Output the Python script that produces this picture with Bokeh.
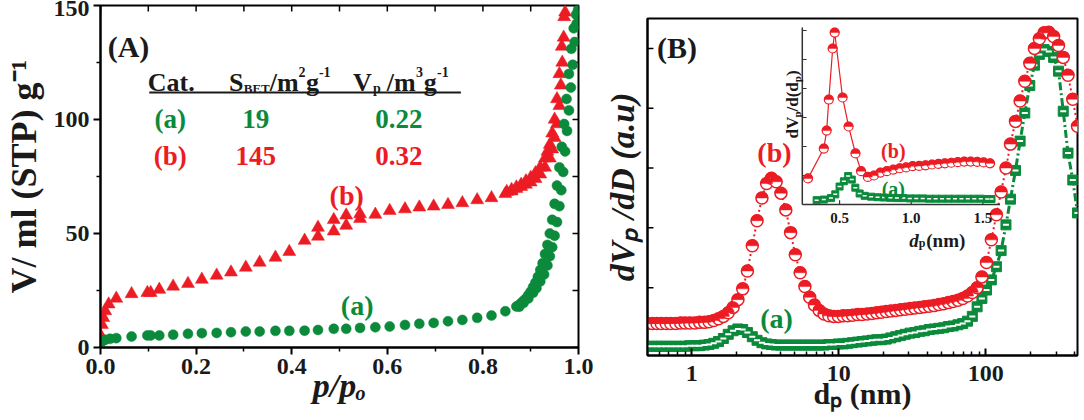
import math
from bokeh.plotting import figure
from bokeh.layouts import row, column
from bokeh.models import Range1d, FixedTicker, PrintfTickFormatter, Label, LinearScale
from bokeh.embed import file_html
from bokeh.resources import INLINE

RED = "#EC1C24"
GREEN = "#0B8A3B"
INK = "#1a1a1a"
SERIF = "Liberation Serif"

# ---------------- (A) N2 adsorption-desorption isotherms ----------------
A_GREEN_ADS_P = [0.002, 0.005, 0.010, 0.020, 0.033, 0.065, 0.098, 0.105, 0.123, 0.152,
                 0.183, 0.212, 0.243, 0.273, 0.304, 0.333, 0.366, 0.395, 0.427, 0.455,
                 0.488, 0.514, 0.543, 0.575, 0.605, 0.637, 0.667, 0.697, 0.727, 0.757,
                 0.788, 0.818, 0.847, 0.876, 0.885, 0.895, 0.905, 0.912, 0.920, 0.928,
                 0.935, 0.940, 0.945, 0.950, 0.955, 0.960, 0.964, 0.968, 0.972, 0.976,
                 0.980, 0.984, 0.988, 0.992, 0.996, 0.999]
A_GREEN_ADS_V = [2.5, 3.0, 3.4, 3.8, 4.1, 4.8, 5.3, 5.3, 5.3, 5.6,
                 6.0, 6.3, 6.4, 6.7, 7.0, 7.0, 7.3, 7.3, 7.4, 7.7,
                 8.2, 8.2, 8.6, 8.9, 9.2, 9.9, 10.4, 10.8, 11.5, 12.1,
                 13.0, 14.0, 15.9, 17.9, 19.5, 21.5, 24.0, 26.0, 29.0, 32.0,
                 36.0, 40.0, 44.0, 49.0, 55.0, 62.0, 69.0, 77.0, 86.0, 95.0,
                 104.0, 114.0, 124.0, 134.0, 142.0, 148.0]
A_GREEN_DES_P = [0.995, 0.990, 0.985, 0.980, 0.975, 0.970, 0.965, 0.960, 0.955, 0.950,
                 0.945, 0.940, 0.935, 0.930, 0.925, 0.920, 0.915, 0.910, 0.905, 0.900,
                 0.895, 0.890, 0.885, 0.880, 0.875, 0.870]
A_GREEN_DES_V = [146, 140, 131, 120, 109, 98, 88, 79, 71, 63,
                 56, 50, 45, 41, 37, 34, 31, 28.5, 26.5, 24.5,
                 23, 21.5, 20.5, 19.5, 18.5, 18]
A_RED_ADS_P = [0.001, 0.003, 0.006, 0.010, 0.017, 0.033, 0.065, 0.098, 0.105, 0.123,
               0.152, 0.183, 0.212, 0.243, 0.273, 0.304, 0.333, 0.366, 0.395, 0.427,
               0.455, 0.488, 0.514, 0.543, 0.575, 0.605, 0.637, 0.667, 0.697, 0.727,
               0.757, 0.788, 0.818, 0.847, 0.860, 0.870, 0.880, 0.890, 0.900, 0.910,
               0.920, 0.930, 0.940, 0.945, 0.950, 0.955, 0.960, 0.963, 0.966, 0.969,
               0.972]
A_RED_ADS_V = [5, 10, 13, 16, 19, 21.5, 23.5, 24, 24, 25.4,
               26.8, 28, 29.8, 31.6, 33, 35.1, 37.3, 39.5, 42, 46.9,
               48.7, 51, 53.5, 56.5, 58.3, 60, 60.7, 61.5, 61.9, 62.6,
               63.4, 64.7, 65.6, 67.4, 68.5, 69.6, 70.5, 71.5, 72.5, 74,
               76, 79, 83, 87, 92, 98, 106, 115, 125, 136,
               147]
A_RED_DES_P = [0.970, 0.965, 0.960, 0.955, 0.950, 0.945, 0.940, 0.935, 0.930, 0.920,
               0.910, 0.900, 0.890, 0.880, 0.870, 0.860, 0.850,
               0.543, 0.514, 0.488, 0.455]
A_RED_DES_V = [145, 132, 120, 109, 100, 94, 89, 86, 83, 79,
               76.5, 74.5, 73, 71.5, 70.3, 69.2, 68.3,
               58.5, 58, 56, 52.6]

A_XTICKS = [0.0, 0.2, 0.4, 0.6, 0.8, 1.0]
A_XMINOR = [0.1, 0.3, 0.5, 0.7, 0.9]
A_YTICKS = [0, 50, 100, 150]
A_YMINOR = [25, 75, 125]

TABLE_ROWS = [("(a)", "19", "0.22", GREEN), ("(b)", "145", "0.32", RED)]

# ---------------- (B) pore size distribution ----------------
B_D = [0.50, 0.54, 0.58, 0.62, 0.67, 0.72, 0.78, 0.84, 0.90, 0.97,
       1.05, 1.13, 1.22, 1.31, 1.41, 1.52, 1.64, 1.77, 1.91, 2.06,
       2.22, 2.39, 2.58, 2.78, 3.00, 3.23, 3.48, 3.75, 4.04, 4.36,
       4.70, 5.06, 5.46, 5.88, 6.34, 6.83, 7.36, 7.94, 8.55, 9.22,
       9.94, 10.7, 11.5, 12.4, 13.4, 14.4, 15.6, 16.8, 18.1, 19.5,
       21.0, 22.6, 24.4, 26.3, 28.3, 30.5, 32.9, 35.5, 38.2, 41.2,
       44.4, 47.9, 51.6, 55.6, 59.9, 64.6, 69.6, 75.0, 80.9, 87.2,
       94.0, 101, 109, 118, 127, 137, 147, 159, 171, 184,
       199, 214, 231, 249, 268, 289, 312, 336, 362, 390,
       420]
B_RED = [0.40, 0.40, 0.40, 0.40, 0.40, 0.40, 0.40, 0.41, 0.41, 0.41,
         0.41, 0.42, 0.42, 0.43, 0.45, 0.48, 0.52, 0.58, 0.67, 0.80,
         0.98, 1.28, 1.70, 2.12, 2.50, 2.74, 2.83, 2.77, 2.58, 2.30,
         1.92, 1.55, 1.25, 1.02, 0.84, 0.71, 0.62, 0.56, 0.53, 0.52,
         0.52, 0.53, 0.53, 0.54, 0.55, 0.55, 0.56, 0.57, 0.58, 0.59,
         0.60, 0.61, 0.62, 0.63, 0.64, 0.65, 0.66, 0.67, 0.68, 0.69,
         0.70, 0.72, 0.73, 0.75, 0.77, 0.79, 0.82, 0.86, 0.92, 1.00,
         1.18, 1.42, 1.80, 2.22, 2.60, 3.00, 3.40, 3.78, 4.12, 4.45,
         4.75, 5.00, 5.16, 5.26, 5.27, 5.20, 5.05, 4.85, 4.55, 4.15,
         3.70]
B_GREEN = [0.02, 0.02, 0.02, 0.02, 0.02, 0.02, 0.02, 0.02, 0.02, 0.03,
           0.03, 0.03, 0.04, 0.05, 0.07, 0.10, 0.15, 0.22, 0.28, 0.31,
           0.30, 0.25, 0.18, 0.12, 0.08, 0.06, 0.05, 0.04, 0.04, 0.04,
           0.04, 0.04, 0.04, 0.04, 0.04, 0.04, 0.04, 0.04, 0.05, 0.05,
           0.06, 0.06, 0.07, 0.08, 0.09, 0.10, 0.11, 0.12, 0.13, 0.13,
           0.14, 0.16, 0.18, 0.20, 0.22, 0.24, 0.25, 0.27, 0.28, 0.30,
           0.31, 0.32, 0.33, 0.35, 0.36, 0.38, 0.40, 0.44, 0.52, 0.68,
           0.82, 0.96, 1.13, 1.35, 1.62, 2.05, 2.48, 2.96, 3.45, 3.92,
           4.38, 4.72, 4.90, 4.98, 4.95, 4.85, 4.62, 3.95, 3.25, 2.80,
           2.25]

B_XTICKS = [1, 10, 100]
B_XMINOR = [0.6, 0.7, 0.8, 0.9, 2, 3, 4, 5, 6, 7, 8, 9,
            20, 30, 40, 50, 60, 70, 80, 90, 200, 300, 400]
B_YTICKS = [1, 2, 3, 4, 5]

# inset: micropore region
IN_RED_D = [0.28, 0.39, 0.41, 0.425, 0.452, 0.466, 0.521, 0.563, 0.611, 0.650,
            0.697, 0.74, 0.785, 0.83, 0.875, 0.92, 0.965, 1.01, 1.055, 1.10,
            1.145, 1.19, 1.235, 1.28, 1.325, 1.37, 1.415, 1.46, 1.505, 1.55]
IN_RED_V = [0.90, 1.93, 2.55, 3.62, 5.38, 5.93, 3.69, 2.69, 1.76, 1.15,
            0.95, 1.00, 1.10, 1.15, 1.20, 1.25, 1.28, 1.32, 1.33, 1.35,
            1.38, 1.40, 1.42, 1.44, 1.46, 1.48, 1.48, 1.47, 1.45, 1.42]
IN_GREEN_D = [0.34, 0.39, 0.44, 0.47, 0.50, 0.53, 0.56, 0.585, 0.61, 0.64,
              0.675, 0.72, 0.765, 0.81, 0.855, 0.90, 0.945, 0.99, 1.035, 1.08,
              1.125, 1.17, 1.215, 1.26, 1.305, 1.35, 1.395, 1.44, 1.485, 1.53,
              1.56]
IN_GREEN_V = [0.15, 0.17, 0.22, 0.35, 0.62, 0.80, 0.98, 0.86, 0.58, 0.38,
              0.30, 0.27, 0.25, 0.24, 0.23, 0.22, 0.22, 0.21, 0.21, 0.21,
              0.20, 0.20, 0.20, 0.20, 0.20, 0.20, 0.20, 0.20, 0.20, 0.19,
              0.19]
IN_XSPAN = (0.24, 1.62)
IN_YSPAN = (0.0, 6.1)
IN_XTICKS = [0.5, 1.0, 1.5]
IN_YTICKS = [1, 2, 3, 4, 5, 6]


def label(p, x, y, text, size, color=INK, style="bold", align="left",
          baseline="alphabetic", angle=0.0, xr="default", yr="default"):
    p.add_layout(Label(x=x, y=y, text=text, text_font=SERIF, text_font_size=f"{size}px",
                       text_font_style=style, text_color=color, text_align=align,
                       text_baseline=baseline, angle=angle,
                       x_range_name=xr, y_range_name=yr))


def style_axis(ax, ticks, minor, t_in, t_out, m_in, m_out, size, standoff,
               title, title_size, title_style, title_standoff):
    ax.ticker = FixedTicker(ticks=ticks, minor_ticks=minor)
    ax.axis_line_width = 2
    ax.axis_line_color = "black"
    ax.major_tick_line_width = 2
    ax.major_tick_line_color = "black"
    ax.minor_tick_line_width = 1.5
    ax.minor_tick_line_color = "black"
    ax.major_tick_in = t_in
    ax.major_tick_out = t_out
    ax.minor_tick_in = m_in
    ax.minor_tick_out = m_out
    ax.major_label_text_font = SERIF
    ax.major_label_text_font_style = "bold"
    ax.major_label_text_color = INK
    ax.major_label_text_font_size = size
    ax.major_label_standoff = standoff
    ax.axis_label = title
    ax.axis_label_text_font = SERIF
    ax.axis_label_text_font_size = title_size
    ax.axis_label_text_font_style = title_style
    ax.axis_label_text_color = INK
    ax.axis_label_standoff = title_standoff


# ======================= panel A =======================
A_W, A_H = 600, 420
A_ML, A_MR, A_MT, A_MB = 99, 22, 5, 73
pa = figure(width=A_W, height=A_H, x_range=Range1d(0, 1), y_range=Range1d(0, 150),
            output_backend="svg", toolbar_location=None,
            min_border_left=A_ML, min_border_right=A_MR, min_border_top=A_MT, min_border_bottom=A_MB)
pa.grid.visible = False
pa.outline_line_color = "black"
pa.outline_line_width = 2
pa.background_fill_color = "white"
pa.border_fill_color = "white"

style_axis(pa.xaxis[0], A_XTICKS, A_XMINOR, 0, 7, 0, 4, "24px", 4,
           "p/p\u2092", "34px", "bold italic", -10)
pa.xaxis[0].formatter = PrintfTickFormatter(format="%.1f")
style_axis(pa.yaxis[0], A_YTICKS, A_YMINOR, 0, 7, 0, 4, "24px", 4,
           "V/ ml (STP) g\u207b\u00b9", "36px", "bold", 7)

# inward ticks on top and right frame edges
a_fw = A_W - A_ML - A_MR
a_fh = A_H - A_MT - A_MB
a_dx = 6 * 1.0 / a_fw
a_dy = 6 * 150.0 / a_fh
top_t = A_XTICKS + A_XMINOR
pa.segment(x0=top_t, y0=[150] * len(top_t), x1=top_t, y1=[150 - a_dy] * len(top_t),
           line_color="black", line_width=1.5)
right_t = A_YTICKS + A_YMINOR
pa.segment(x0=[1.0] * len(right_t), y0=right_t, x1=[1.0 - a_dx] * len(right_t), y1=right_t,
           line_color="black", line_width=1.5)

pa.scatter(A_RED_ADS_P, A_RED_ADS_V, marker="triangle", size=13, fill_color=RED, line_color=RED, line_width=0.5)
pa.scatter(A_RED_DES_P, A_RED_DES_V, marker="triangle", size=13, fill_color=RED, line_color=RED, line_width=0.5)
pa.scatter(A_GREEN_ADS_P, A_GREEN_ADS_V, marker="circle", size=10, fill_color=GREEN, line_color=GREEN, line_width=0.5)
pa.scatter(A_GREEN_DES_P, A_GREEN_DES_V, marker="circle", size=10, fill_color=GREEN, line_color=GREEN, line_width=0.5)

# panel label and table
label(pa, 0.015, 132, "(A)", 30)
label(pa, 0.099, 116.2, "Cat.", 26)
label(pa, 0.269, 116.2, "S", 26)
label(pa, 0.2996, 113.4, "BET", 13)
label(pa, 0.354, 116.2, "/m", 26)
label(pa, 0.414, 121.0, "2", 14)
label(pa, 0.430, 116.2, "g", 26)
label(pa, 0.457, 121.0, "-1", 14)
label(pa, 0.528, 116.2, "V", 26)
label(pa, 0.570, 113.4, "p", 14)
label(pa, 0.599, 116.2, "/m", 26)
label(pa, 0.660, 121.0, "3", 14)
label(pa, 0.676, 116.2, "g", 26)
label(pa, 0.704, 121.0, "-1", 14)
pa.segment(x0=[0.102], y0=[111.8], x1=[0.754], y1=[111.8], line_color=INK, line_width=2)
for (cat, s, v, col), yb in zip(TABLE_ROWS, [100.4, 84.2]):
    label(pa, 0.146, yb, cat, 27, color=col, align="center")
    label(pa, 0.325, yb, s, 27, color=col, align="center")
    label(pa, 0.624, yb, v, 27, color=col, align="center")

label(pa, 0.515, 66.7, "(b)", 28, color=RED, align="center", baseline="middle")
label(pa, 0.537, 18.4, "(a)", 28, color=GREEN, align="center", baseline="middle")

# ======================= panel B =======================
B_W, B_H = 484, 420
B_ML, B_MR, B_MT, B_MB = 45, 7, 18, 65
B_XR = (0.5, 420)
B_YR = (-0.134, 5.5)
pb = figure(width=B_W, height=B_H, x_axis_type="log",
            x_range=Range1d(*B_XR), y_range=Range1d(*B_YR),
            output_backend="svg", toolbar_location=None,
            min_border_left=B_ML, min_border_right=B_MR, min_border_top=B_MT, min_border_bottom=B_MB)
pb.grid.visible = False
pb.outline_line_color = "black"
pb.outline_line_width = 2
pb.background_fill_color = "white"
pb.border_fill_color = "white"
pb.extra_x_ranges = {"ix": Range1d(-0.84, 2.16)}
pb.extra_x_scales = {"ix": LinearScale()}
pb.extra_y_ranges = {"iy": Range1d(-5.207, 6.414)}

style_axis(pb.xaxis[0], B_XTICKS, B_XMINOR, 7, 0, 4, 0, "24px", 10,
           "d\u209a (nm)", "30px", "bold", -7)
pb.xaxis[0].formatter = PrintfTickFormatter(format="%d")
style_axis(pb.yaxis[0], [], [], 0, 0, 0, 0, "24px", 0,
           "dV\u209a /dD (a.u)", "34px", "bold italic", 7)

# inward ticks on the left edge of panel B
b_fw = B_W - B_ML - B_MR
b_tick = B_XR[0] * 10 ** (6 * math.log10(B_XR[1] / B_XR[0]) / b_fw)
pb.segment(x0=[B_XR[0]] * len(B_YTICKS), y0=B_YTICKS, x1=[b_tick] * len(B_YTICKS), y1=B_YTICKS,
           line_color="black", line_width=1.5)

pb.line(B_D, B_GREEN, line_color=GREEN, line_width=3, line_dash="8 3 2 3")
pb.scatter(B_D, B_GREEN, marker="square", size=10, fill_color=GREEN, line_color=GREEN, line_width=1)
pb.scatter(B_D, B_GREEN, marker="dash", size=6, line_color="white", line_width=2)
pb.line(B_D, B_RED, line_color=RED, line_width=2, line_dash="2 3")
pb.scatter(B_D, B_RED, marker="circle", size=12, fill_color="white", line_color=RED, line_width=1.5)
pb.wedge(B_D, B_RED, radius=6, radius_units="screen", start_angle=0, end_angle=math.pi,
         fill_color=RED, line_color=RED, line_width=0.5)

label(pb, 0.58, 5.02, "(B)", 30, baseline="middle")
label(pb, 3.65, 3.26, "(b)", 28, color=RED, align="center", baseline="middle")
label(pb, 3.77, 0.48, "(a)", 28, color=GREEN, align="center", baseline="middle")

# ---- inset (drawn on extra ranges) ----
ik = dict(x_range_name="ix", y_range_name="iy")
pb.segment(x0=[IN_XSPAN[0]], y0=[IN_YSPAN[0]], x1=[IN_XSPAN[0]], y1=[IN_YSPAN[1]],
           line_color="#333333", line_width=1.5, **ik)
pb.segment(x0=[IN_XSPAN[0]], y0=[IN_YSPAN[0]], x1=[IN_XSPAN[1]], y1=[IN_YSPAN[0]],
           line_color="#333333", line_width=1.5, **ik)
pb.segment(x0=[IN_XSPAN[0]] * len(IN_YTICKS), y0=IN_YTICKS,
           x1=[IN_XSPAN[0] + 0.03] * len(IN_YTICKS), y1=IN_YTICKS,
           line_color="#333333", line_width=1.2, **ik)
pb.segment(x0=IN_XTICKS, y0=[IN_YSPAN[0]] * len(IN_XTICKS),
           x1=IN_XTICKS, y1=[IN_YSPAN[0] + 0.15] * len(IN_XTICKS),
           line_color="#333333", line_width=1.2, **ik)
for t in IN_XTICKS:
    label(pb, t, -0.45, f"{t:.1f}", 15, align="center", baseline="middle", xr="ix", yr="iy")

pb.line(IN_GREEN_D, IN_GREEN_V, line_color=GREEN, line_width=1.5, line_dash="4 2", **ik)
pb.scatter(IN_GREEN_D, IN_GREEN_V, marker="square", size=7, fill_color=GREEN, line_color=GREEN, **ik)
pb.scatter(IN_GREEN_D, IN_GREEN_V, marker="dash", size=4, line_color="white", line_width=1.5, **ik)
pb.line(IN_RED_D, IN_RED_V, line_color=RED, line_width=1.2, **ik)
pb.scatter(IN_RED_D, IN_RED_V, marker="circle", size=9, fill_color="white", line_color=RED, line_width=1.2, **ik)
pb.wedge(IN_RED_D, IN_RED_V, radius=4.5, radius_units="screen", start_angle=0, end_angle=math.pi,
         fill_color=RED, line_color=RED, line_width=0.5, **ik)

label(pb, 0.875, 1.83, "(b)", 20, color=RED, align="center", baseline="middle", xr="ix", yr="iy")
label(pb, 0.875, 0.55, "(a)", 20, color=GREEN, align="center", baseline="middle", xr="ix", yr="iy")
label(pb, 0.986, -1.24, "d", 19, style="bold italic", xr="ix", yr="iy")
label(pb, 1.052, -1.34, "p", 12, style="bold", xr="ix", yr="iy")
label(pb, 1.105, -1.24, " (nm)", 19, xr="ix", yr="iy")
label(pb, 0.174, 2.28, "dV", 17, angle=math.pi / 2, xr="ix", yr="iy")
label(pb, 0.201, 2.997, "p", 11, angle=math.pi / 2, xr="ix", yr="iy")
label(pb, 0.174, 3.207, "/d(d", 17, angle=math.pi / 2, xr="ix", yr="iy")
label(pb, 0.201, 4.217, "p", 11, angle=math.pi / 2, xr="ix", yr="iy")
label(pb, 0.174, 4.427, ")", 17, angle=math.pi / 2, xr="ix", yr="iy")

layout = row(column(pa), column(pb), spacing=0)
open("out.html", "w").write(file_html(layout, INLINE))
